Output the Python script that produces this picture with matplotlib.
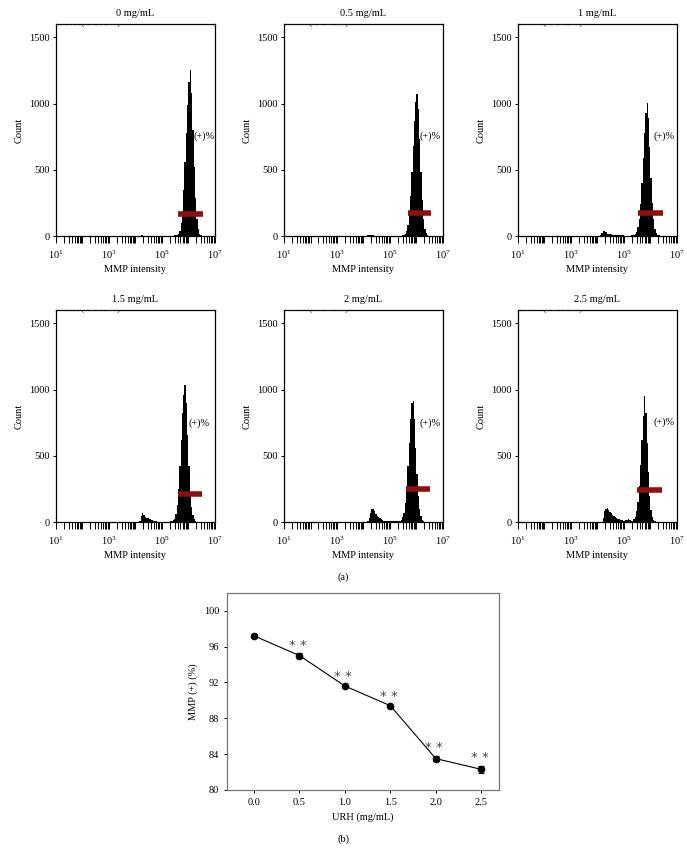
import numpy as np
import matplotlib
matplotlib.use('Agg')
import matplotlib.pyplot as plt
from matplotlib.ticker import FixedLocator, NullFormatter

plt.rcParams['font.family'] = ['Liberation Serif', 'DejaVu Serif']
plt.rcParams['mathtext.fontset'] = 'stix'
plt.rcParams['font.size'] = 7.5

# histogram bins: log10 edges from 4.0 to 6.7 in steps of 0.05
log_edges = np.round(np.arange(4.0, 6.7001, 0.05), 2)

titles = ['0 mg/mL', '0.5 mg/mL', '1 mg/mL', '1.5 mg/mL', '2 mg/mL', '2.5 mg/mL']

counts_0 = [0, 0, 0, 2, 4, 6, 3, 2, 0, 0,
            0, 0, 0, 0, 0, 0, 0, 0, 0, 0,
            0, 0, 0, 0, 0, 0, 0, 0, 2, 4,
            4, 8, 15, 40, 95, 190, 350, 560, 780, 990,
            1160, 1250, 1080, 800, 520, 290, 130, 50, 15, 5,
            2, 0, 0, 0]
counts_05 = [0, 0, 2, 5, 8, 10, 6, 4, 3, 2,
             2, 1, 0, 0, 0, 0, 0, 0, 0, 0,
             0, 0, 0, 0, 0, 0, 1, 2, 3, 5,
             8, 18, 40, 85, 165, 300, 480, 680, 870, 1010,
             1070, 960, 730, 480, 270, 130, 55, 20, 8, 3,
             1, 0, 0, 0]
counts_1 = [0, 0, 5, 20, 35, 38, 28, 18, 14, 12,
            12, 10, 9, 8, 7, 6, 5, 5, 4, 4,
            3, 3, 3, 3, 3, 4, 5, 8, 15, 30,
            65, 130, 240, 400, 590, 780, 930, 1003, 890, 670,
            440, 250, 125, 55, 22, 9, 4, 2, 1, 0,
            0, 0, 0, 0]
counts_15 = [0, 0, 0, 10, 45, 68, 55, 40, 32, 28,
             24, 20, 15, 10, 6, 4, 3, 3, 3, 3,
             3, 3, 3, 3, 3, 3, 4, 6, 12, 25,
             60, 130, 250, 420, 620, 820, 960, 1035, 900, 660,
             420, 230, 110, 50, 20, 8, 3, 1, 0, 0,
             0, 0, 0, 0]
counts_2 = [0, 0, 0, 5, 30, 70, 95, 98, 80, 60,
            48, 40, 30, 20, 12, 8, 6, 5, 5, 5,
            4, 4, 4, 4, 4, 5, 6, 10, 18, 35,
            70, 140, 260, 420, 600, 780, 900, 912, 780, 560,
            360, 200, 100, 45, 18, 7, 3, 1, 0, 0,
            0, 0, 0, 0]
counts_25 = [0, 0, 0, 0, 30, 80, 100, 105, 90, 75,
             65, 55, 45, 38, 30, 25, 20, 15, 12, 10,
             10, 12, 18, 20, 14, 8, 10, 20, 40, 80,
             150, 270, 430, 620, 800, 950, 820, 600, 380, 200,
             90, 35, 12, 4, 1, 0, 0, 0, 0, 0,
             0, 0, 0, 0]
all_counts = [counts_0, counts_05, counts_1, counts_15, counts_2, counts_25]

# gate bar (log10 start, log10 end, count level) and label position
gate_start = [5.62, 5.68, 5.54, 5.60, 5.60, 5.50]
gate_end = [6.53, 6.55, 6.46, 6.50, 6.50, 6.45]
gate_level = [166, 173, 173, 211, 249, 241]
label_x = [6.2, 6.13, 6.1, 6.0, 6.1, 6.1]
label_y = [754, 754, 754, 746, 746, 750]

# panel (b) data
urh = [0.0, 0.5, 1.0, 1.5, 2.0, 2.5]
mmp = [97.2, 95.0, 91.6, 89.4, 83.5, 82.3]
mmp_err = [0.15, 0.25, 0.12, 0.1, 0.3, 0.4]
signif = ['', '* *', '* *', '* *', '* *', '* *']

fig = plt.figure(figsize=(6.87, 8.61), dpi=100)

lefts = [0.0815, 0.4134, 0.754]
bottoms = [0.7259, 0.3937]
W, H = 0.2314, 0.2462

major_x = [1e1, 1e3, 1e5, 1e7]
minor_x = [m * 10.0 ** e for e in range(1, 7) for m in range(1, 10) if not (m == 1 and e % 2 == 1)]

for k in range(6):
    r, c = divmod(k, 3)
    ax = fig.add_axes([lefts[c], bottoms[r], W, H])
    ax.set_xscale('log')
    ax.stairs(all_counts[k], 10.0 ** log_edges, fill=True, color='black', lw=0)
    ax.hlines(gate_level[k], 10 ** gate_start[k], 10 ** gate_end[k], color='#8e0f0f', lw=4)
    ax.text(10 ** label_x[k], label_y[k], '(+)%', fontsize=7.5, va='center', ha='left')
    # header line of the cytometer export, cut off by the frame
    ax.text(0.02, 1.008, '0.0.0 (P2 in all)', transform=ax.transAxes, fontsize=7,
            va='center', ha='left', clip_on=True, color='#222222')
    ax.set_xlim(1e1, 1e7)
    ax.set_ylim(0, 1600)
    ax.xaxis.set_major_locator(FixedLocator(major_x))
    ax.xaxis.set_minor_locator(FixedLocator(minor_x))
    ax.xaxis.set_minor_formatter(NullFormatter())
    ax.set_yticks([0, 500, 1000, 1500])
    ax.tick_params(axis='x', which='both', direction='out', length=5, width=0.7, pad=4)
    ax.tick_params(axis='y', direction='out', length=2.5, width=0.7, pad=2)
    for s in ax.spines.values():
        s.set_linewidth(0.9)
    ax.set_title(titles[k], fontsize=7.5, pad=6)
    ax.set_xlabel('MMP intensity', labelpad=3)
    ax.set_ylabel('Count', labelpad=4)

fig.text(343 / 687, 1 - 577 / 861, '(a)', ha='center', va='center', fontsize=7.5)

ax = fig.add_axes([0.330, 0.0825, 0.397, 0.229])
ax.errorbar(urh, mmp, yerr=mmp_err, color='black', marker='o', ms=4.5,
            lw=0.8, elinewidth=0.8, capsize=2.5, capthick=0.8)
for x, y, e, s in zip(urh, mmp, mmp_err, signif):
    if s:
        ax.text(x - 0.02, y + e + 0.2, s, ha='center', va='bottom', fontsize=9.5,
                color='#444444', family='DejaVu Sans')
ax.set_xlim(-0.3, 2.7)
ax.set_ylim(80, 102)
ax.set_yticks([80, 84, 88, 92, 96, 100])
ax.set_xticks(urh)
ax.set_xticklabels(['%.1f' % v for v in urh])
ax.tick_params(direction='out', length=2.5, width=0.7, pad=3)
for s in ax.spines.values():
    s.set_color('#777777')
    s.set_linewidth(0.9)
ax.set_xlabel('URH (mg/mL)', labelpad=4)
ax.set_ylabel('MMP (+) (%)', labelpad=4)

fig.text(343 / 687, 1 - 839 / 861, '(b)', ha='center', va='center', fontsize=7.5)

fig.savefig('out.png', dpi=100)
